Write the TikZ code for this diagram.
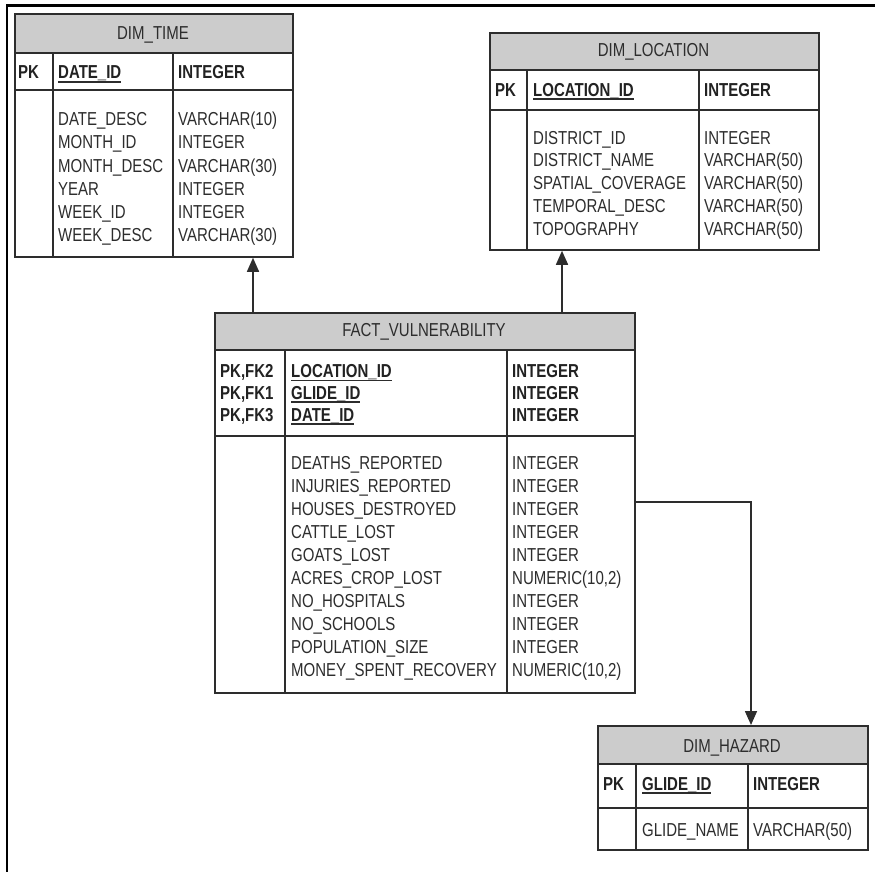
\documentclass[tikz,border=0pt]{standalone}
\usepackage{fontspec}
\setmainfont{Liberation Sans}
\usetikzlibrary{arrows.meta}
\definecolor{hdr}{RGB}{204,204,204}
\definecolor{ln}{RGB}{45,45,45}
\definecolor{tx}{RGB}{45,45,45}
\newcommand\pkul[1]{\setbox0\hbox{#1}\rlap{\color{ln}\rule[-3pt]{\wd0}{1.4pt}}\box0}
\newcommand\numtype{NUMERIC(10,2)}
\tikzset{
 tbl/.style={draw=ln, line width=1.8pt, inner sep=0pt, anchor=north west},
 sepline/.style={draw=ln, line width=1.8pt},
 stretched/.style={yscale=1.25, transform shape},
 title/.style={font=\fontsize{15}{18}\selectfont, text=tx, inner sep=0pt, anchor=base, stretched},
 cell/.style={font=\fontsize{15}{18}\selectfont, text=tx, anchor=base west, inner sep=0pt, stretched},
 keycell/.style={font=\fontsize{15}{18}\selectfont\bfseries, text=tx!75!black, anchor=base west, inner sep=0pt, stretched},
 arr/.style={draw=ln, line width=1.6pt, -{Triangle[length=14pt,width=12pt]}},
 framestyle/.style={draw=black, line width=2.3pt}
}
\begin{document}
\begin{tikzpicture}[x=1pt,y=-1pt]
\useasboundingbox (0,0) rectangle (875,872);
\fill[white] (0,0) rectangle (875,872);
\draw[framestyle] (7,872) -- (7,5.5) -- (875,5.5);

% ---------- DIM_TIME ----------
\fill[hdr] (14,13) rectangle (292,53);
\draw[sepline] (14,53) -- (292,53) (14,90) -- (292,90) (53,53) -- (53,256) (173,53) -- (173,256);
\node[tbl, minimum width=278pt, minimum height=243pt] (time) at (14,13) {};
\node[title] (timeT) at (153,40) {DIM\_TIME};
\node[keycell] (timePK) at (18,79) {PK};
\node[keycell] (timeK) at (58,79) {\pkul{DATE\_ID}};
\node[keycell] (timeKT) at (178,79) {INTEGER};
\foreach \n/\t [count=\i] in {DATE\_DESC/VARCHAR(10),MONTH\_ID/INTEGER,MONTH\_DESC/VARCHAR(30),YEAR/INTEGER,WEEK\_ID/INTEGER,WEEK\_DESC/VARCHAR(30)}{
  \node[cell] (timeN\i) at (58,{126+23*(\i-1)}) {\n};
  \node[cell] (timeT\i) at (178,{126+23*(\i-1)}) {\t};
}

% ---------- DIM_LOCATION ----------
\fill[hdr] (489,32) rectangle (818,70);
\draw[sepline] (489,70) -- (818,70) (489,110) -- (818,110) (527,70) -- (527,249) (699,70) -- (699,249);
\node[tbl, minimum width=329pt, minimum height=217pt] (loc) at (489,32) {};
\node[title] (locT) at (653.5,57) {DIM\_LOCATION};
\node[keycell] (locPK) at (495,96.5) {PK};
\node[keycell] (locK) at (533,96.5) {\pkul{LOCATION\_ID}};
\node[keycell] (locKT) at (704,96.5) {INTEGER};
\foreach \n/\t [count=\i] in {DISTRICT\_ID/INTEGER,DISTRICT\_NAME/VARCHAR(50),SPATIAL\_COVERAGE/VARCHAR(50),TEMPORAL\_DESC/VARCHAR(50),TOPOGRAPHY/VARCHAR(50)}{
  \node[cell] (locN\i) at (533,{144+22.75*(\i-1)}) {\n};
  \node[cell] (locT\i) at (704,{144+22.75*(\i-1)}) {\t};
}

% ---------- FACT_VULNERABILITY ----------
\fill[hdr] (214,312) rectangle (634,350);
\draw[sepline] (214,350) -- (634,350) (214,436) -- (634,436) (285,350) -- (285,692) (507,350) -- (507,692);
\node[tbl, minimum width=420pt, minimum height=380pt] (fact) at (214,312) {};
\node[title] (factT) at (424,336) {FACT\_VULNERABILITY};
\foreach \p/\n [count=\i] in {PK{,}FK2/LOCATION\_ID,PK{,}FK1/GLIDE\_ID,PK{,}FK3/DATE\_ID}{
  \node[keycell] (factP\i) at (220,{377.5+21.75*(\i-1)}) {\p};
  \node[keycell] (factK\i) at (291,{377.5+21.75*(\i-1)}) {\pkul{\n}};
  \node[keycell] (factKT\i) at (512,{377.5+21.75*(\i-1)}) {INTEGER};
}
\foreach \n/\t [count=\i] in {DEATHS\_REPORTED/INTEGER,INJURIES\_REPORTED/INTEGER,HOUSES\_DESTROYED/INTEGER,CATTLE\_LOST/INTEGER,GOATS\_LOST/INTEGER,ACRES\_CROP\_LOST/\numtype,NO\_HOSPITALS/INTEGER,NO\_SCHOOLS/INTEGER,POPULATION\_SIZE/INTEGER,MONEY\_SPENT\_RECOVERY/\numtype}{
  \node[cell] (factN\i) at (291,{469+23*(\i-1)}) {\n};
  \node[cell] (factT\i) at (512,{469+23*(\i-1)}) {\t};
}

% ---------- DIM_HAZARD ----------
\fill[hdr] (597,725) rectangle (867,764);
\draw[sepline] (597,764) -- (867,764) (597,808) -- (867,808) (636,764) -- (636,849) (748,764) -- (748,849);
\node[tbl, minimum width=270pt, minimum height=124pt] (haz) at (597,725) {};
\node[title] (hazT) at (732,752) {DIM\_HAZARD};
\node[keycell] (hazPK) at (603,790) {PK};
\node[keycell] (hazK) at (642,790) {\pkul{GLIDE\_ID}};
\node[keycell] (hazKT) at (753,790) {INTEGER};
\node[cell] (hazN1) at (642,836) {GLIDE\_NAME};
\node[cell] (hazT1) at (753,836) {VARCHAR(50)};

% ---------- connectors ----------
\coordinate (xa) at (253,0);
\coordinate (xb) at (562,0);
\coordinate (xc) at (751,0);
\coordinate (yc) at (0,502);
\draw[arr] (fact.north -| xa) -- (time.south -| xa);
\draw[arr] (fact.north -| xb) -- (loc.south -| xb);
\draw[arr] (fact.east |- yc) -| (haz.north -| xc);
\end{tikzpicture}
\end{document}
